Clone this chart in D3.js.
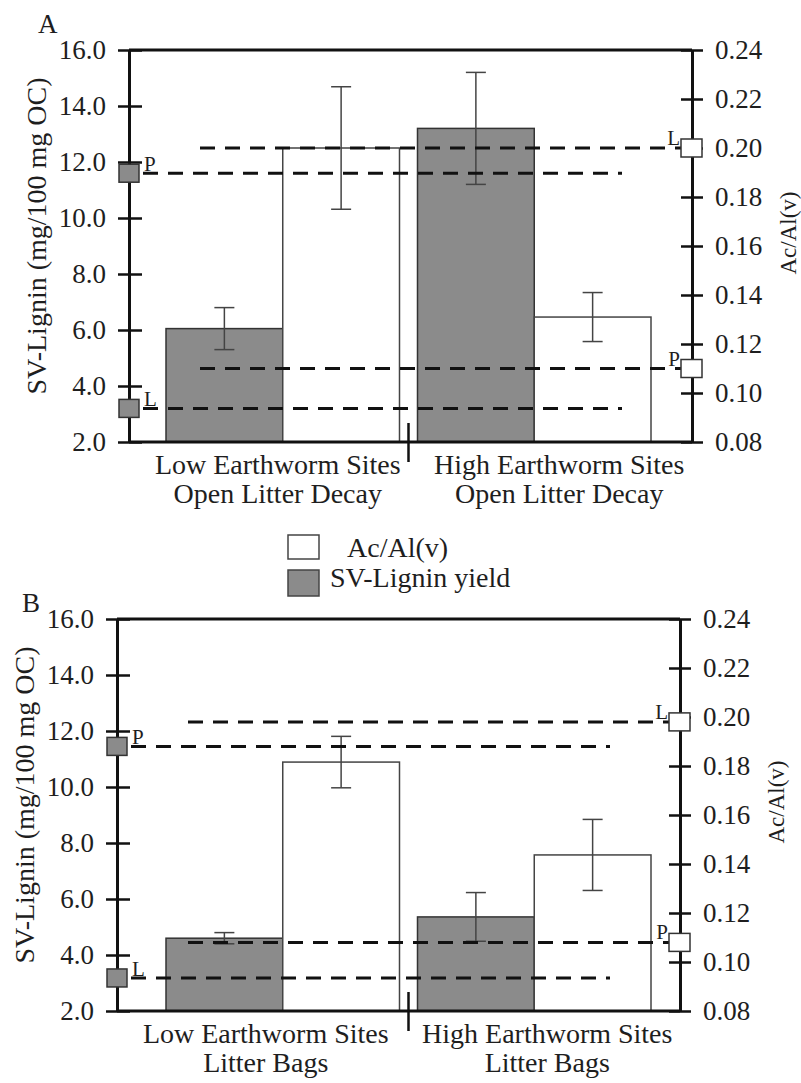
<!DOCTYPE html>
<html>
<head>
<meta charset="utf-8">
<script src="https://cdn.jsdelivr.net/npm/d3@7"></script>
<style>
  body { margin: 0; background: #fff; }
</style>
</head>
<body>
<script>
// ---- data ----
var sitesA = [["Low Earthworm Sites", "Open Litter Decay"], ["High Earthworm Sites", "Open Litter Decay"]];
var sitesB = [["Low Earthworm Sites", "Litter Bags"], ["High Earthworm Sites", "Litter Bags"]];

// panel A (open litter decay)
var ligninA    = [6.05, 13.2];
var ligninErrA = [0.75, 2.0];
var acalA      = [0.200, 0.131];
var acalErrA   = [0.025, 0.010];

// panel B (litter bags)
var ligninB    = [4.6, 5.36];
var ligninErrB = [0.2, 0.87];
var acalB      = [0.1816, 0.1437];
var acalErrB   = [0.0105, 0.0145];

// reference levels of the initial litter: P and L
var refNames    = ["P", "L"];
var refLigninA  = [11.6, 3.2];
var refAcalA    = [0.110, 0.200];
var refLigninB  = [11.45, 3.18];
var refAcalB    = [0.108, 0.198];

var ligninTicks = [2, 4, 6, 8, 10, 12, 14, 16];
var acalTicks   = [0.08, 0.10, 0.12, 0.14, 0.16, 0.18, 0.20, 0.22, 0.24];

var legendLabels = ["Ac/Al(v)", "SV-Lignin yield"];
var leftTitle  = "SV-Lignin (mg/100 mg OC)";
var rightTitle = "Ac/Al(v)";

var grey = "#8b8b8b";
var serif = "'Liberation Serif', 'Times New Roman', serif";

var svg = d3.select("body").append("svg")
    .attr("width", 801)
    .attr("height", 1083)
    .style("font-family", serif);

function label(sel, size) {
  return sel.style("font-family", serif).style("font-size", size + "px").attr("fill", "#1e1e1e");
}

function drawPanel(p) {
  var y = d3.scaleLinear().domain([2, 16]).range([p.bottom, p.top]);
  var y2 = d3.scaleLinear().domain([0.08, 0.24]).range([p.bottom, p.top]);

  // bar groups and the two bars inside each
  var x0 = d3.scaleBand().domain([0, 1]).range([166, 651]).paddingInner(0.0716);
  var x1 = d3.scaleBand().domain(["lignin", "acal"]).range([0, x0.bandwidth()]);
  // category labels
  var xLab = d3.scaleBand().domain([0, 1]).range([p.left + 8, p.right + 8]);

  var rows = p.sites.map(function(s, i) {
    return {i: i, lignin: p.lignin[i], ligninErr: p.ligninErr[i], acal: p.acal[i], acalErr: p.acalErr[i]};
  });

  var g = svg.append("g");

  // grey bars (left axis)
  g.selectAll(".barL")
      .data(rows)
    .enter().append("rect")
      .attr("x", function(d) { return x0(d.i) + x1("lignin"); })
      .attr("width", x1.bandwidth())
      .attr("y", function(d) { return y(d.lignin); })
      .attr("height", function(d) { return p.bottom - y(d.lignin); })
      .attr("fill", grey)
      .attr("stroke", "#333")
      .attr("stroke-width", 1.5);

  // white bars (right axis)
  g.selectAll(".barA")
      .data(rows)
    .enter().append("rect")
      .attr("x", function(d) { return x0(d.i) + x1("acal"); })
      .attr("width", x1.bandwidth())
      .attr("y", function(d) { return y2(d.acal); })
      .attr("height", function(d) { return p.bottom - y2(d.acal); })
      .attr("fill", "#fff")
      .attr("stroke", "#444")
      .attr("stroke-width", 1.5);

  // error bars
  var errs = [];
  rows.forEach(function(d) {
    errs.push({cx: x0(d.i) + x1("lignin") + x1.bandwidth() / 2, lo: y(d.lignin - d.ligninErr), hi: y(d.lignin + d.ligninErr)});
    errs.push({cx: x0(d.i) + x1("acal") + x1.bandwidth() / 2, lo: y2(d.acal - d.acalErr), hi: y2(d.acal + d.acalErr)});
  });
  var eb = g.selectAll(".err").data(errs).enter().append("g")
      .attr("stroke", "#444").attr("stroke-width", 1.5);
  eb.append("line")
      .attr("x1", function(d) { return d.cx; }).attr("x2", function(d) { return d.cx; })
      .attr("y1", function(d) { return d.lo; }).attr("y2", function(d) { return d.hi; });
  eb.append("line")
      .attr("x1", function(d) { return d.cx - 10; }).attr("x2", function(d) { return d.cx + 10; })
      .attr("y1", function(d) { return d.hi; }).attr("y2", function(d) { return d.hi; });
  eb.append("line")
      .attr("x1", function(d) { return d.cx - 10; }).attr("x2", function(d) { return d.cx + 10; })
      .attr("y1", function(d) { return d.lo; }).attr("y2", function(d) { return d.lo; });

  // dashed reference lines
  refNames.forEach(function(name, i) {
    var yl = y(p.refLignin[i]);
    g.append("line")
        .attr("x1", p.left + 14).attr("x2", p.right - 70)
        .attr("y1", yl).attr("y2", yl)
        .attr("stroke", "#111").attr("stroke-width", 3)
        .attr("stroke-dasharray", "15,10");
    var ya = y2(p.refAcal[i]);
    g.append("line")
        .attr("x1", p.left + 71).attr("x2", p.right - 11)
        .attr("y1", ya).attr("y2", ya)
        .attr("stroke", "#111").attr("stroke-width", 3)
        .attr("stroke-dasharray", "15,10");
  });

  // top border and x baseline
  g.append("line")
      .attr("x1", p.left).attr("x2", p.right)
      .attr("y1", p.top).attr("y2", p.top)
      .attr("stroke", "#111").attr("stroke-width", 3);
  g.append("line")
      .attr("x1", p.left).attr("x2", p.right)
      .attr("y1", p.bottom).attr("y2", p.bottom)
      .attr("stroke", "#111").attr("stroke-width", 3);

  // divider tick between the two site groups
  var mid = (x0(0) + x0.bandwidth() + x0(1)) / 2;
  g.append("line")
      .attr("x1", mid).attr("x2", mid)
      .attr("y1", p.bottom - 19).attr("y2", p.bottom + 20)
      .attr("stroke", "#111").attr("stroke-width", 2.5);

  // left axis
  var gl = g.append("g")
      .attr("transform", "translate(" + p.left + ",0)")
      .call(d3.axisLeft(y).tickValues(ligninTicks).tickFormat(d3.format(".1f"))
        .tickSize(11).tickSizeOuter(0).tickPadding(12));
  styleAxis(gl);
  gl.selectAll(".tick line").attr("x1", 13);

  // right axis
  var gr = g.append("g")
      .attr("transform", "translate(" + p.right + ",0)")
      .call(d3.axisRight(y2).tickValues(acalTicks).tickFormat(d3.format(".2f"))
        .tickSize(11).tickSizeOuter(0).tickPadding(12));
  styleAxis(gr);
  gr.selectAll(".tick line").attr("x1", -11);

  // reference markers on the axes
  refNames.forEach(function(name, i) {
    var yl = y(p.refLignin[i]);
    g.append("rect")
        .attr("x", p.left - 10).attr("y", yl - 9)
        .attr("width", 20).attr("height", 18)
        .attr("fill", grey).attr("stroke", "#333").attr("stroke-width", 1.5);
    label(g.append("text"), 21)
        .attr("x", p.left + 15).attr("y", yl - 2)
        .text(name);
    var ya = y2(p.refAcal[i]);
    g.append("rect")
        .attr("x", p.right - 11).attr("y", ya - 9)
        .attr("width", 21).attr("height", 18)
        .attr("fill", "#fff").attr("stroke", "#333").attr("stroke-width", 1.5);
    label(g.append("text"), 21)
        .attr("x", p.right - 12).attr("y", ya - 3)
        .attr("text-anchor", "end")
        .text(name);
  });

  // category labels
  p.sites.forEach(function(lines, i) {
    lines.forEach(function(t, k) {
      label(g.append("text"), 28)
          .attr("x", xLab(i) + xLab.bandwidth() / 2)
          .attr("y", p.bottom + 32 + k * 29)
          .attr("text-anchor", "middle")
          .text(t);
    });
  });

  // axis titles
  var midY = (p.top + p.bottom) / 2;
  label(g.append("text"), 28)
      .attr("transform", "translate(" + (p.left - 93) + "," + (midY - 10) + ") rotate(-90)")
      .attr("text-anchor", "middle")
      .attr("dy", "0.35em")
      .text(leftTitle);
  label(g.append("text"), 23)
      .attr("transform", "translate(" + (p.right + 96) + "," + (midY - 13) + ") rotate(-90)")
      .attr("text-anchor", "middle")
      .attr("dy", "0.35em")
      .text(rightTitle);

  // panel letter
  label(g.append("text"), 27)
      .attr("x", p.letterX).attr("y", p.letterY)
      .text(p.letter);
}

function styleAxis(a) {
  a.attr("font-size", null).attr("font-family", null);
  a.select(".domain").attr("stroke", "#111").attr("stroke-width", 3);
  a.selectAll(".tick line").attr("stroke", "#111").attr("stroke-width", 2.5);
  label(a.selectAll(".tick text"), 27);
}

drawPanel({letter: "A", letterX: 38, letterY: 33,
  top: 50, bottom: 442, left: 129, right: 692,
  sites: sitesA, lignin: ligninA, ligninErr: ligninErrA, acal: acalA, acalErr: acalErrA,
  refLignin: refLigninA, refAcal: refAcalA});

drawPanel({letter: "B", letterX: 22, letterY: 612,
  top: 619, bottom: 1011, left: 117, right: 680,
  sites: sitesB, lignin: ligninB, ligninErr: ligninErrB, acal: acalB, acalErr: acalErrB,
  refLignin: refLigninB, refAcal: refAcalB});

// legend between the panels
var legend = svg.append("g");
var legendFill = ["#fff", grey];
legendLabels.forEach(function(t, i) {
  legend.append("rect")
      .attr("x", 288).attr("y", 535 + i * 35)
      .attr("width", 31).attr("height", 24 + i * 2)
      .attr("fill", legendFill[i])
      .attr("stroke", "#444").attr("stroke-width", 1.5);
  label(legend.append("text"), 28)
      .attr("x", i == 0 ? 347 : 330).attr("y", 557 + i * 30)
      .text(t);
});
</script>
</body>
</html>
